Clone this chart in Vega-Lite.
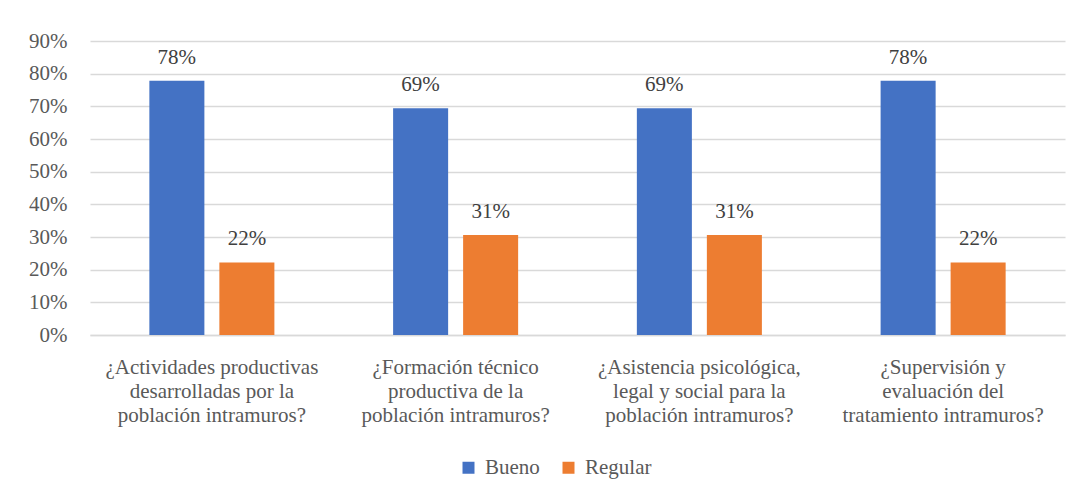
{
  "$schema": "https://vega.github.io/schema/vega-lite/v6.json",
  "width": 975,
  "height": 294,
  "autosize": {"type": "none"},
  "padding": {"left": 90, "top": 41, "right": 16, "bottom": 165},
  "background": "white",
  "data": {
    "values": [
      {"pregunta": "¿Actividades productivas|desarrolladas por la|población intramuros?", "orden": 1, "serie": "Bueno", "valor": 0.778},
      {"pregunta": "¿Actividades productivas|desarrolladas por la|población intramuros?", "orden": 1, "serie": "Regular", "valor": 0.222},
      {"pregunta": "¿Formación técnico|productiva de la|población intramuros?", "orden": 2, "serie": "Bueno", "valor": 0.694},
      {"pregunta": "¿Formación técnico|productiva de la|población intramuros?", "orden": 2, "serie": "Regular", "valor": 0.306},
      {"pregunta": "¿Asistencia psicológica,|legal y social para la|población intramuros?", "orden": 3, "serie": "Bueno", "valor": 0.694},
      {"pregunta": "¿Asistencia psicológica,|legal y social para la|población intramuros?", "orden": 3, "serie": "Regular", "valor": 0.306},
      {"pregunta": "¿Supervisión y|evaluación del|tratamiento intramuros?", "orden": 4, "serie": "Bueno", "valor": 0.778},
      {"pregunta": "¿Supervisión y|evaluación del|tratamiento intramuros?", "orden": 4, "serie": "Regular", "valor": 0.222}
    ]
  },
  "encoding": {
    "x": {
      "field": "pregunta",
      "type": "nominal",
      "sort": {"field": "orden"},
      "scale": {"paddingInner": 0, "paddingOuter": 0},
      "axis": {
        "title": null,
        "labelAngle": 0,
        "labelExpr": "split(datum.label, '|')",
        "labelFont": "Liberation Serif",
        "labelFontSize": 21,
        "labelColor": "#595959",
        "labelLineHeight": 24,
        "labelPadding": 21,
        "labelBaseline": "top",
        "labelLimit": 400,
        "ticks": false,
        "domainColor": "#d9d9d9",
        "domainWidth": 1.5,
        "grid": false
      }
    },
    "xOffset": {
      "field": "serie",
      "type": "nominal",
      "scale": {"paddingInner": 0.214, "paddingOuter": 0.848}
    },
    "y": {
      "field": "valor",
      "type": "quantitative",
      "scale": {"domain": [0, 0.9], "nice": false},
      "axis": {
        "title": null,
        "format": ".0%",
        "values": [0, 0.1, 0.2, 0.3, 0.4, 0.5, 0.6, 0.7, 0.8, 0.9],
        "labelFont": "Liberation Serif",
        "labelFontSize": 21,
        "labelColor": "#595959",
        "labelPadding": 23,
        "ticks": false,
        "domain": false,
        "gridColor": "#d9d9d9",
        "gridWidth": 1.5
      }
    }
  },
  "layer": [
    {
      "mark": {"type": "bar"},
      "encoding": {
        "color": {
          "field": "serie",
          "type": "nominal",
          "scale": {"domain": ["Bueno", "Regular"], "range": ["#4472C4", "#ED7D31"]},
          "legend": {
            "title": null,
            "orient": "none",
            "legendX": 368,
            "legendY": 416,
            "direction": "horizontal",
            "symbolType": "square",
            "symbolSize": 144,
            "symbolStrokeWidth": 0,
            "labelOffset": 6,
            "columnPadding": 18,
            "labelFont": "Liberation Serif",
            "labelFontSize": 21,
            "labelColor": "#595959"
          }
        }
      }
    },
    {
      "mark": {"type": "text", "baseline": "bottom", "dy": -13, "font": "Liberation Serif", "fontSize": 21, "color": "#404040"},
      "encoding": {
        "text": {"field": "valor", "type": "quantitative", "format": ".0%"}
      }
    }
  ],
  "config": {"view": {"stroke": null}}
}
